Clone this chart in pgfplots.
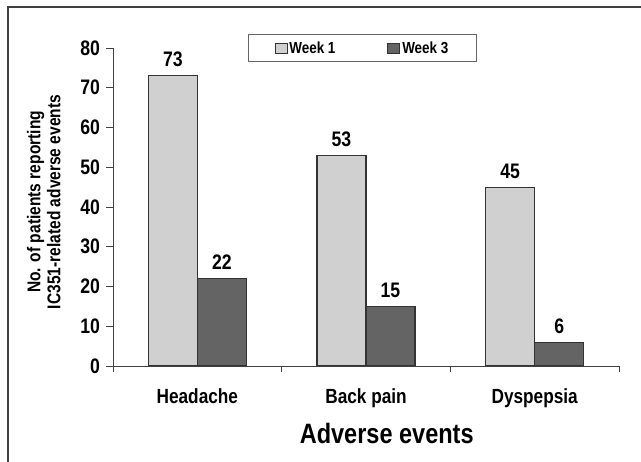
\documentclass[border=0pt]{standalone}
\usepackage{fontspec}
\setmainfont{Liberation Sans}[FakeStretch=0.84]
\usepackage{pgfplots}
\pgfplotsset{compat=1.18}
\definecolor{wkone}{HTML}{D0D0D0}
\definecolor{wkthree}{HTML}{646464}
\definecolor{edge}{HTML}{333333}
\begin{document}
\begin{tikzpicture}[x=1pt,y=1pt]
\useasboundingbox (0,0) rectangle (641,462);
\draw[line width=2pt, black!75] (8,0) -- (8,455) -- (641,455);
\begin{axis}[
  at={(113pt,96pt)}, anchor=south west,
  width=506pt, height=318pt, scale only axis,
  xmin=0, xmax=3, ymin=0, ymax=80,
  axis x line=bottom, axis y line=left,
  axis line style={-, black!75, line width=0.9pt},
  every tick/.style={black!75, line width=0.9pt},
  tick align=outside, major tick length=6.5pt,
  xtick={0,1,2,3}, xticklabels={},
  extra x ticks={0.5,1.5,2.5},
  extra x tick labels={Headache,Back pain,Dyspepsia},
  extra x tick style={major tick length=0pt,
     xticklabel style={font=\fontsize{20.5}{24}\selectfont\bfseries, yshift=-19pt}},
  ytick={0,10,...,80},
  yticklabel style={font=\fontsize{21}{24}\selectfont\bfseries, xshift=-3pt},
  /pgf/number format/assume math mode=true,
  xlabel={Adverse events},
  xlabel style={font=\fontsize{28}{32}\selectfont\bfseries, at={(axis description cs:0.541,-0.211)}, anchor=center},
  ylabel={No. of patients reporting\\IC351-related adverse events},
  ylabel style={font=\fontsize{18.5}{20}\selectfont\bfseries, align=center, at={(axis description cs:-0.137,0.516)}, anchor=center, rotate=0},
  nodes near coords,
  every node near coord/.append style={font=\fontsize{21}{24}\selectfont\bfseries, anchor=south, inner sep=0pt, yshift=8pt, black},
  legend columns=2,
  legend style={at={(axis description cs:0.493,1.0)}, anchor=center, draw=black!60, line width=0.9pt,
     font=\fontsize{16}{19}\selectfont\bfseries, inner xsep=26pt, inner ysep=5pt,
     /tikz/every even column/.append style={column sep=50pt}},
  legend image code/.code={\draw[#1, line width=0.8pt, draw=black!80] (0pt,-5pt) rectangle (12pt,5pt);},
]
\addplot[ybar, bar width=0.29, bar shift=-0.145, fill=wkone, draw=edge, line width=1.2pt,
   every node near coord/.append style={xshift=-24.5pt}] coordinates {(0.5,73) (1.5,53) (2.5,45)};
\addlegendentry{Week 1}
\addplot[ybar, bar width=0.29, bar shift=0.145, fill=wkthree, draw=edge, line width=1.2pt,
   every node near coord/.append style={xshift=24.5pt}] coordinates {(0.5,22) (1.5,15) (2.5,6)};
\addlegendentry{Week 3}
\end{axis}
\end{tikzpicture}
\end{document}
